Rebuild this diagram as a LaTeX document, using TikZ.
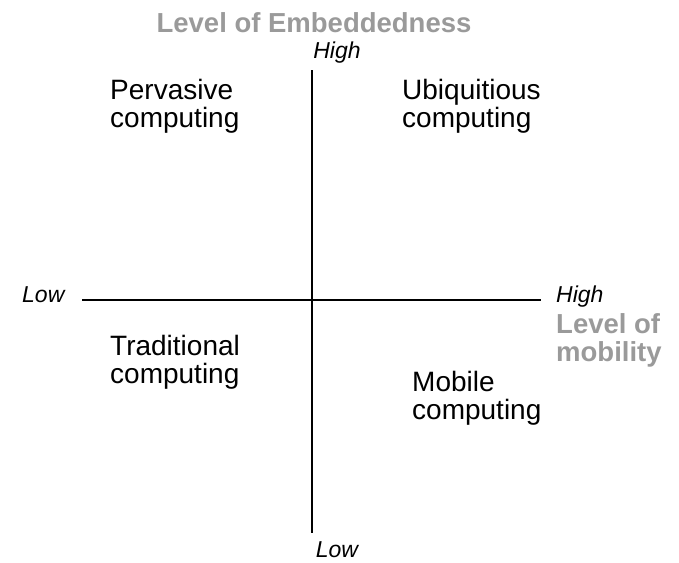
\documentclass[tikz,border=0pt]{standalone}
\usepackage{fontspec}
\setmainfont{Liberation Sans}
\definecolor{labgray}{HTML}{9A9A9A}
\begin{document}
\begin{tikzpicture}[x=1pt,y=-1pt,
  quad/.style={anchor=base west,inner sep=0pt,align=left,font=\fontsize{28}{28}\selectfont},
  axis/.style={line width=2pt,black},
  tick/.style={inner sep=0pt,font=\fontsize{23}{24}\selectfont\itshape},
  title/.style={inner sep=0pt,text=labgray,font=\fontsize{27.5}{28}\selectfont\bfseries}]
\useasboundingbox (0,0) rectangle (679,562);
\coordinate (vt) at (312,70);
\coordinate (vb) at (312,533);
\coordinate (hl) at (82,300);
\coordinate (hr) at (541,300);
\draw[axis] (vt) -- (vb);
\draw[axis] (hl) -- (hr);
\node[title,anchor=base] (emb) at (314,32) {Level of Embeddedness};
\node[tick,anchor=base] (hightop) at (337,58) {High};
\node[tick,anchor=base] (lowbot) at (337,557) {Low};
\node[tick,anchor=base west] (lowleft) at (22,302) {Low};
\node[tick,anchor=base west] (highright) at (556,302) {High};
\node[title,anchor=base west,align=left] (mob) at (556,361) {Level of\\mobility};
\node[quad] (perv) at (110,127) {Pervasive\\computing};
\node[quad] (ubi) at (402,127) {Ubiquitious\\computing};
\node[quad] (trad) at (110,383) {Traditional\\computing};
\node[quad] (mobc) at (412,419) {Mobile\\computing};
\end{tikzpicture}
\end{document}
